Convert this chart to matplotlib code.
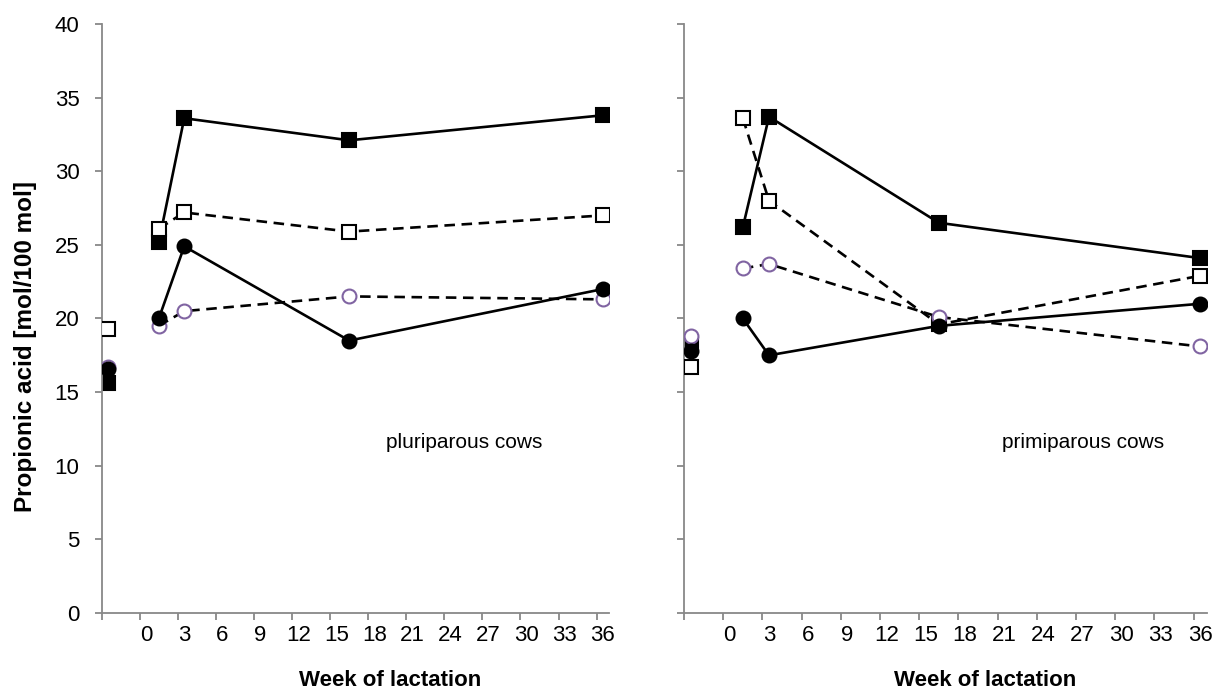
import matplotlib
matplotlib.use("Agg")
import matplotlib.pyplot as plt
import numpy as np

plt.rcParams['font.family'] = ['Liberation Sans', 'DejaVu Sans']

# weeks relative to calving (-3 = prepartum sample)
weeks = [-3, 1, 3, 16, 36]

# pluriparous cows
pluri_filled_sq = [15.6, 25.2, 33.6, 32.1, 33.8]
pluri_open_sq = [19.3, 26.1, 27.2, 25.9, 27.0]
pluri_filled_ci = [16.6, 20.0, 24.9, 18.5, 22.0]
pluri_open_ci = [16.7, 19.5, 20.5, 21.5, 21.3]

# primiparous cows
primi_filled_sq = [18.2, 26.2, 33.7, 26.5, 24.1]
primi_open_sq = [16.7, 33.6, 28.0, 19.6, 22.9]
primi_filled_ci = [17.8, 20.0, 17.5, 19.5, 21.0]
primi_open_ci = [18.8, 23.4, 23.7, 20.1, 18.1]

tick_labels = list(range(0, 37, 3))
y_ticks = list(range(0, 41, 5))

GRAY = '#888888'
PURPLE = '#8064A2'


def draw_series(ax, y, marker, face, edge, ls, z):
    # prepartum point stays unconnected
    ax.plot(weeks[1:], y[1:], color='black', lw=1.9, ls=ls,
            dashes=(4, 2.5) if ls == '--' else (None, None), zorder=z)
    ax.plot(weeks, y, ls='none', marker=marker, ms=10, mfc=face, mec=edge,
            mew=1.5, zorder=z + 0.5)


def setup_panel(ax, show_ylabels):
    ax.set_xlim(-3.5, 36.5)
    ax.set_ylim(0, 40)
    for s in ['top', 'right']:
        ax.spines[s].set_visible(False)
    for s in ['left', 'bottom']:
        ax.spines[s].set_color(GRAY)
        ax.spines[s].set_linewidth(1.3)
    ax.set_xticks(tick_labels)
    ax.set_xticklabels([str(t) for t in tick_labels])
    ax.set_xticks(np.arange(-3.5, 36, 3), minor=True)
    ax.tick_params(axis='x', which='major', length=0, labelsize=16, pad=8.5)
    ax.tick_params(axis='x', which='minor', length=5, color=GRAY, width=1.3)
    ax.set_yticks(y_ticks)
    ax.tick_params(axis='y', length=5, color=GRAY, width=1.3, labelsize=16, pad=11,
                   labelleft=show_ylabels)
    ax.set_xlabel('Week of lactation', fontsize=16, fontweight='bold')


fig = plt.figure(figsize=(12.2, 6.97), dpi=100)
ax1 = fig.add_axes([0.0834, 0.1205, 0.4160, 0.8451])
ax2 = fig.add_axes([0.5607, 0.1205, 0.4284, 0.8451])

for ax, fsq, osq, fci, oci in [
        (ax1, pluri_filled_sq, pluri_open_sq, pluri_filled_ci, pluri_open_ci),
        (ax2, primi_filled_sq, primi_open_sq, primi_filled_ci, primi_open_ci)]:
    draw_series(ax, fsq, 's', 'black', 'black', '-', 2)
    draw_series(ax, osq, 's', 'white', 'black', '--', 3)
    draw_series(ax, oci, 'o', 'white', PURPLE, '--', 4)
    draw_series(ax, fci, 'o', 'black', 'black', '-', 5)

setup_panel(ax1, True)
setup_panel(ax2, False)
ax1.xaxis.set_label_coords(0.568, -0.096)
ax2.xaxis.set_label_coords(0.576, -0.096)
ax1.set_ylabel('Propionic acid [mol/100 mol]', fontsize=17.5, fontweight='bold')
ax1.yaxis.set_label_coords(-0.128, 0.452)

ax1.text(25.1, 11.6, 'pluriparous cows', fontsize=15, ha='center', va='center')
ax2.text(27.0, 11.6, 'primiparous cows', fontsize=15, ha='center', va='center')

fig.savefig('out.png', dpi=100)
